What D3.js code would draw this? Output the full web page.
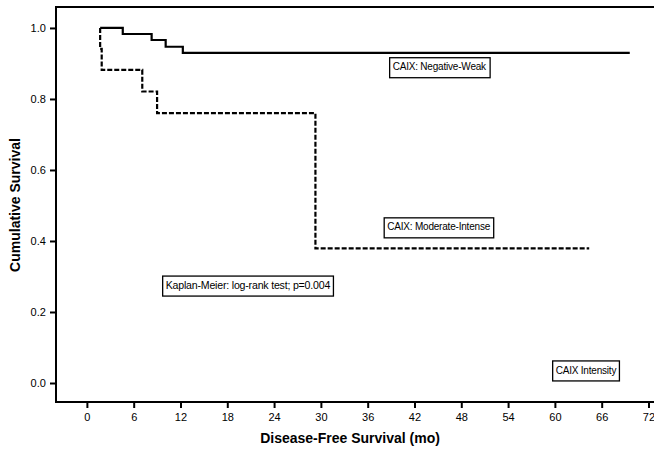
<!DOCTYPE html>
<html><head><meta charset="utf-8">
<script src="https://cdn.jsdelivr.net/npm/d3@7"></script>
<style>body{margin:0;background:#fff}svg{display:block}text{font-family:"Liberation Sans",Arial,sans-serif}</style>
</head><body>
<script>
// Step curves (time in months, cumulative survival)
const negWeakTimes = [1.7, 4.6, 8.3, 10.1, 12.3, 69.6];
const negWeakSurv  = [1.0, 0.983, 0.966, 0.947, 0.930, 0.930];
const modIntTimes  = [1.7, 1.7, 1.9, 7.1, 9.0, 29.3, 64.4];
const modIntSurv   = [1.0, 0.941, 0.882, 0.821, 0.760, 0.379, 0.379];
const xTicks = [0, 6, 12, 18, 24, 30, 36, 42, 48, 54, 60, 66, 72];
const yTicks = [0.0, 0.2, 0.4, 0.6, 0.8, 1.0];
const labels = [
  {text: "CAIX: Negative-Weak", t: 39.2, v: 0.888, fs: 10},
  {text: "CAIX: Moderate-Intense", t: 38.5, v: 0.437, fs: 10},
  {text: "Kaplan-Meier: log-rank test; p=0.004", t: 10.1, v: 0.273, fs: 10.6},
  {text: "CAIX Intensity", t: 60.1, v: 0.034, fs: 10}
];

const W = 654, H = 451;
const svg = d3.select("body").append("svg").attr("width", W).attr("height", H);
const x = d3.scaleLinear().domain([-3.96, 80]).range([56, 56 + 83.96 * 7.8]);
const y = d3.scaleLinear().domain([-0.0535, 1.059]).range([402, 7]);

// frame
svg.append("rect").attr("x", 56).attr("y", 7).attr("width", 700).attr("height", 395)
  .attr("fill", "none").attr("stroke", "#000").attr("stroke-width", 2);

// axes
const xAxis = svg.append("g").attr("transform", "translate(0,402)")
  .call(d3.axisBottom(x).tickValues(xTicks).tickSize(6).tickSizeOuter(0).tickFormat(d3.format("d")));
const yAxis = svg.append("g").attr("transform", "translate(56,0)")
  .call(d3.axisLeft(y).tickValues(yTicks).tickSize(6).tickSizeOuter(0).tickFormat(d3.format(".1f")));
[xAxis, yAxis].forEach(g => {
  g.select(".domain").remove();
  g.selectAll(".tick line").attr("stroke", "#000").attr("stroke-width", 2);
  g.selectAll(".tick text").attr("font-size", 11).attr("fill", "#000")
   .attr("font-family", "'Liberation Sans', Arial, sans-serif");
});
xAxis.selectAll(".tick text").attr("dy", "0.95em");
yAxis.selectAll(".tick text").attr("dx", "-0.1em");

// curves
const line = d3.line().x(d => x(d[0])).y(d => y(d[1])).curve(d3.curveStepAfter);
svg.append("path").datum(d3.zip(negWeakTimes, negWeakSurv)).attr("d", line)
  .attr("fill", "none").attr("stroke", "#000").attr("stroke-width", 2.2);
svg.append("path").datum(d3.zip(modIntTimes, modIntSurv)).attr("d", line)
  .attr("fill", "none").attr("stroke", "#000").attr("stroke-width", 2.2)
  .attr("stroke-dasharray", "5,2");

// labels
labels.forEach(l => {
  const g = svg.append("g");
  const t = g.append("text").attr("x", x(l.t)).attr("y", y(l.v)).attr("font-size", l.fs)
    .attr("fill", "#000").attr("dominant-baseline", "middle").attr("letter-spacing", -0.2).text(l.text);
  const bb = t.node().getBBox();
  g.insert("rect", "text").attr("x", bb.x - 3).attr("y", y(l.v) - 10)
    .attr("width", bb.width + 6).attr("height", 20)
    .attr("fill", "#fff").attr("stroke", "#000").attr("stroke-width", 1.3);
});

// axis titles
svg.append("text").attr("x", 350).attr("y", 443).attr("text-anchor", "middle")
  .attr("font-size", 14).attr("font-weight", "bold").text("Disease-Free Survival (mo)");
svg.append("text").attr("transform", "translate(20,205) rotate(-90)").attr("text-anchor", "middle")
  .attr("font-size", 14).attr("font-weight", "bold").text("Cumulative Survival");
</script>
</body></html>
